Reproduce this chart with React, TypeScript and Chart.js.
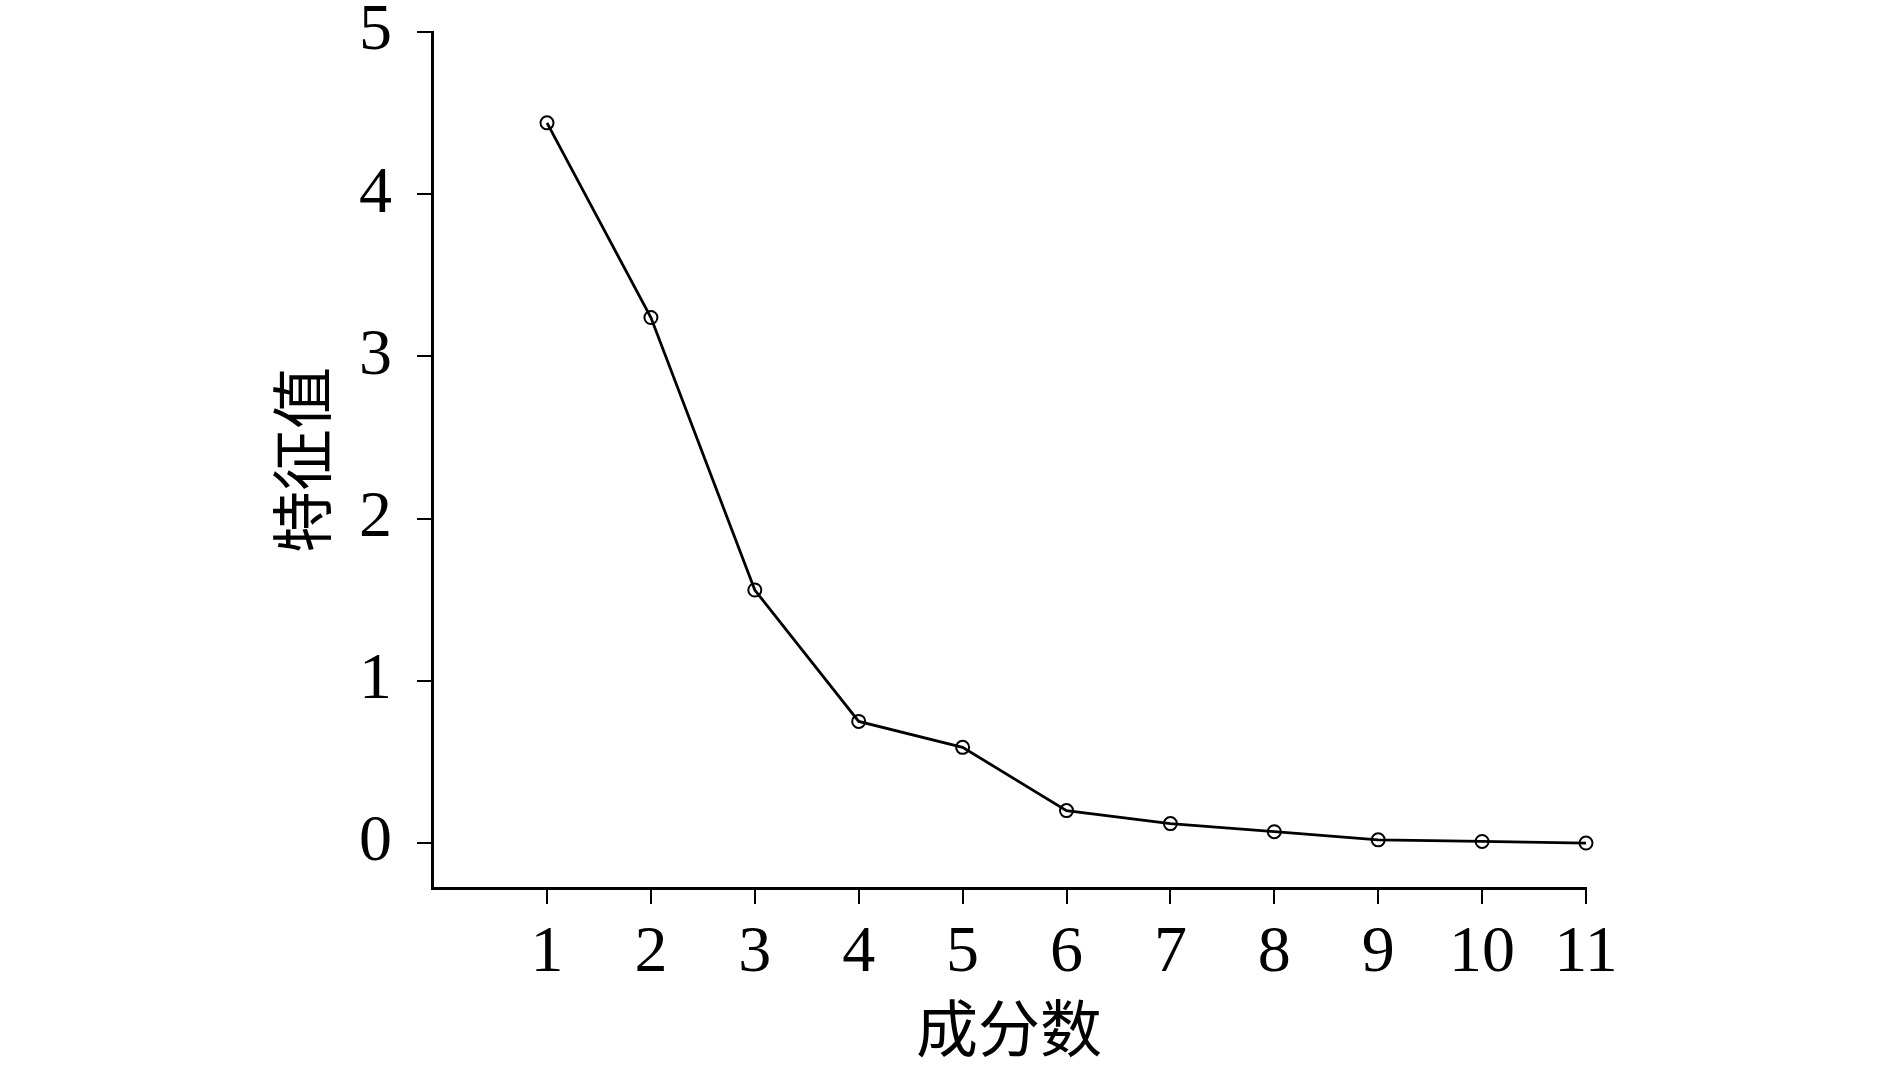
import React, { useEffect, useRef } from "react";
import { Chart, registerables } from "chart.js";

Chart.register(...registerables);

const components = [1, 2, 3, 4, 5, 6, 7, 8, 9, 10, 11];
const eigenvalues = [4.44, 3.24, 1.56, 0.75, 0.59, 0.2, 0.12, 0.07, 0.02, 0.01, 0.0];
const xTickValues = [1, 2, 3, 4, 5, 6, 7, 8, 9, 10, 11];
const yTickValues = [0, 1, 2, 3, 4, 5];
const xTitle = "成分数";
const yTitle = "特征值";

const W = 1890;
const H = 1072;

export default function App() {
  const ref = useRef<HTMLCanvasElement | null>(null);

  useEffect(() => {
    const canvas = ref.current;
    if (!canvas) return;
    const numFont = { family: "'Liberation Serif', 'Times New Roman', serif", size: 66 };
    const cjkFont = { family: "'Noto Sans CJK SC', sans-serif", size: 62, lineHeight: 1 };
    const chart = new Chart(canvas, {
      type: "line",
      data: {
        datasets: [
          {
            data: components.map((c, i) => ({ x: c, y: eigenvalues[i] })),
            borderColor: "#000",
            borderWidth: 2.8,
            backgroundColor: "rgba(0,0,0,0)",
            pointRadius: 6.5,
            pointBorderWidth: 2,
            pointBorderColor: "#000",
            pointBackgroundColor: "rgba(0,0,0,0)",
            tension: 0,
            clip: false as any,
          },
        ],
      },
      options: {
        responsive: false,
        animation: false,
        maintainAspectRatio: false,
        layout: { padding: { left: 0, top: 32, right: 304, bottom: 0 } },
        plugins: { legend: { display: false }, tooltip: { enabled: false } },
        scales: {
          x: {
            type: "linear",
            min: -0.107,
            max: 11,
            afterBuildTicks: (s: any) => {
              s.ticks = xTickValues.map((v) => ({ value: v }));
            },
            afterFit: (s: any) => {
              s.height = H - 888;
              s.paddingLeft = 0;
              s.paddingRight = 0;
            },
            grid: {
              drawOnChartArea: false,
              drawTicks: true,
              tickLength: 16,
              color: "#000",
              lineWidth: 2,
            },
            border: { display: true, color: "#000", width: 3 },
            ticks: {
              color: "#000",
              font: numFont,
              padding: 10,
              maxRotation: 0,
              autoSkip: false,
              callback: (v: any) => String(v),
            },
            title: {
              display: true,
              text: xTitle,
              color: "#000",
              font: cjkFont,
              padding: { top: 0, bottom: 13 },
            },
          },
          y: {
            type: "linear",
            min: -0.277,
            max: 5,
            afterBuildTicks: (s: any) => {
              s.ticks = yTickValues.map((v) => ({ value: v }));
            },
            afterFit: (s: any) => {
              s.width = 432;
              s.paddingTop = 0;
              s.paddingBottom = 0;
            },
            grid: {
              drawOnChartArea: false,
              drawTicks: true,
              tickLength: 15,
              color: "#000",
              lineWidth: 2,
            },
            border: { display: true, color: "#000", width: 3 },
            ticks: {
              color: "#000",
              font: numFont,
              padding: 25,
              autoSkip: false,
              callback: (v: any) => String(v),
            },
            title: {
              display: true,
              text: yTitle,
              color: "#000",
              font: cjkFont,
              padding: { top: 271, bottom: 0 },
            },
          },
        },
      },
    });
    return () => chart.destroy();
  }, []);

  return (
    <div style={{ position: "absolute", left: 0, top: 0, width: W, height: H, background: "#fff" }}>
      <canvas ref={ref} width={W} height={H} style={{ width: W, height: H, display: "block" }} />
    </div>
  );
}
